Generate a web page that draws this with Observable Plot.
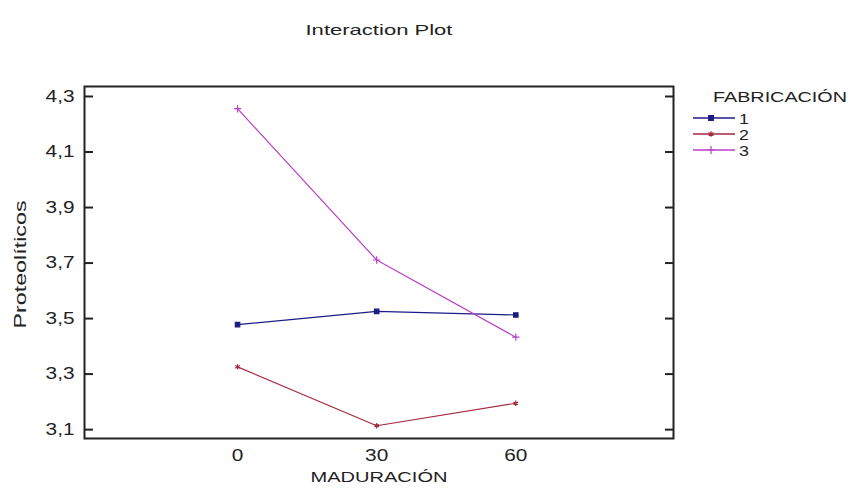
<!DOCTYPE html>
<html>
<head>
<meta charset="utf-8">
<script src="https://cdn.jsdelivr.net/npm/d3@7"></script>
<script src="https://cdn.jsdelivr.net/npm/@observablehq/plot@0.6"></script>
<style>
  html, body { margin: 0; padding: 0; background: #fff; }
  #wrap { position: relative; width: 851px; height: 490px; font-family: "Liberation Sans", Arial, sans-serif; color: #222; }
  #wrap > svg { position: absolute; left: 0; top: 0; }
</style>
</head>
<body>
<div id="wrap"></div>
<script>
const titleText = "Interaction Plot";
const xLabel = "MADURACIÓN";
const yLabel = "Proteolíticos";
const legendTitle = "FABRICACIÓN";
const maduracion = [0, 30, 60];
const fabricacion = ["1", "2", "3"];
const serie1 = [3.478, 3.526, 3.513];
const serie2 = [3.326, 3.114, 3.195];
const serie3 = [4.256, 3.711, 3.433];
const yTicks = [3.1, 3.3, 3.5, 3.7, 3.9, 4.1, 4.3];
const colors = ["#1c1c86", "#a52a40", "#bb40c6"];
const symbols = ["square", "asterisk", "plus"];

const values = [serie1, serie2, serie3];
const data = [];
fabricacion.forEach((f, i) => maduracion.forEach((m, j) => data.push({f, m, v: values[i][j]})));

const fmt = d => d3.format(".1f")(d).replace(".", ",");
const FONT = "'Liberation Sans', Arial, sans-serif";

const chart = Plot.plot({
  width: 851,
  height: 490,
  marginLeft: 84,
  marginRight: 178,
  marginTop: 86,
  marginBottom: 52,
  style: {fontFamily: FONT, fontSize: "16px", color: "#222", background: "transparent"},
  x: {domain: [-33, 94], ticks: maduracion, tickFormat: d => String(d)},
  y: {domain: [3.068, 4.336], ticks: yTicks, tickFormat: fmt},
  color: {domain: fabricacion, range: colors},
  symbol: {domain: fabricacion, range: symbols},
  marks: [
    Plot.frame({stroke: "#222", strokeWidth: 2}),
    Plot.axisY({anchor: "left", ticks: yTicks, tickFormat: fmt, tickSize: -9, tickPadding: 19, strokeWidth: 2, fontSize: 16, fill: "#222", label: null}),
    Plot.axisY({anchor: "right", ticks: yTicks, tickSize: -9, strokeWidth: 2, text: null, label: null}),
    Plot.axisX({ticks: maduracion, tickSize: 0, tickPadding: 11, fontSize: 16, fill: "#222", label: null}),
    Plot.text([xLabel], {frameAnchor: "bottom", dy: 43, fontSize: 15, fill: "#222", className: "xlab"}),
    Plot.text([yLabel], {frameAnchor: "left", textAnchor: "middle", dx: -64, dy: 2, rotate: -90, fontSize: 17, fill: "#222", className: "ylab"}),
    Plot.text([titleText], {frameAnchor: "top", dy: -62, fontSize: 15, fill: "#222", className: "ttl"}),
    Plot.line(data, {x: "m", y: "v", z: "f", stroke: "f", strokeWidth: 1.2}),
    Plot.dot(data, {x: "m", y: "v", symbol: "f", stroke: "f", fill: "f", r: 2.5, strokeWidth: 1.2})
  ]
});
const wrap = document.getElementById("wrap");
wrap.appendChild(chart);

// Legend (built from the same arrays)
const symMap = {square: d3.symbolSquare, asterisk: d3.symbolAsterisk, plus: d3.symbolPlus};
const leg = d3.select(wrap).append("svg")
  .attr("width", 160).attr("height", 90)
  .style("left", "690px").style("top", "80px")
  .attr("font-family", FONT).attr("fill", "#222");
leg.append("text").attr("class", "legttl").attr("x", 23).attr("y", 17 + 5).attr("font-size", 15).text(legendTitle);
fabricacion.forEach((f, i) => {
  const cy = 38 + i * 16;
  const g = leg.append("g");
  g.append("line").attr("x1", 3).attr("x2", 45).attr("y1", cy).attr("y2", cy)
    .attr("stroke", colors[i]).attr("stroke-width", 1.4);
  g.append("path").attr("transform", `translate(21,${cy})`)
    .attr("d", d3.symbol(symMap[symbols[i]], 22)())
    .attr("fill", colors[i]).attr("stroke", colors[i]).attr("stroke-width", 1.2);
  g.append("text").attr("class", "legnum").attr("x", 49).attr("y", cy + 5.5).attr("font-size", 15.5).text(f);
});

// Horizontal widening of the glyphs, as in the reference rendering
function stretchTo(el, target) {
  const len = el.getComputedTextLength();
  if (len > 0) { el.setAttribute("textLength", target); el.setAttribute("lengthAdjust", "spacingAndGlyphs"); }
}
function stretchBy(el, k) {
  const len = el.getComputedTextLength();
  if (len > 0) { el.setAttribute("textLength", len * k); el.setAttribute("lengthAdjust", "spacingAndGlyphs"); }
}
chart.querySelectorAll("g[aria-label='y-axis tick label'] text, g[aria-label='x-axis tick label'] text").forEach(t => stretchBy(t, 1.3));
chart.querySelectorAll("g.xlab text").forEach(t => stretchTo(t, 137));
chart.querySelectorAll("g.ylab text").forEach(t => stretchTo(t, 128));
chart.querySelectorAll("g.ttl text").forEach(t => stretchTo(t, 147));
leg.selectAll("text.legttl").each(function() { stretchTo(this, 134); });
leg.selectAll("text.legnum").each(function() { stretchBy(this, 1.15); });
</script>
</body>
</html>
